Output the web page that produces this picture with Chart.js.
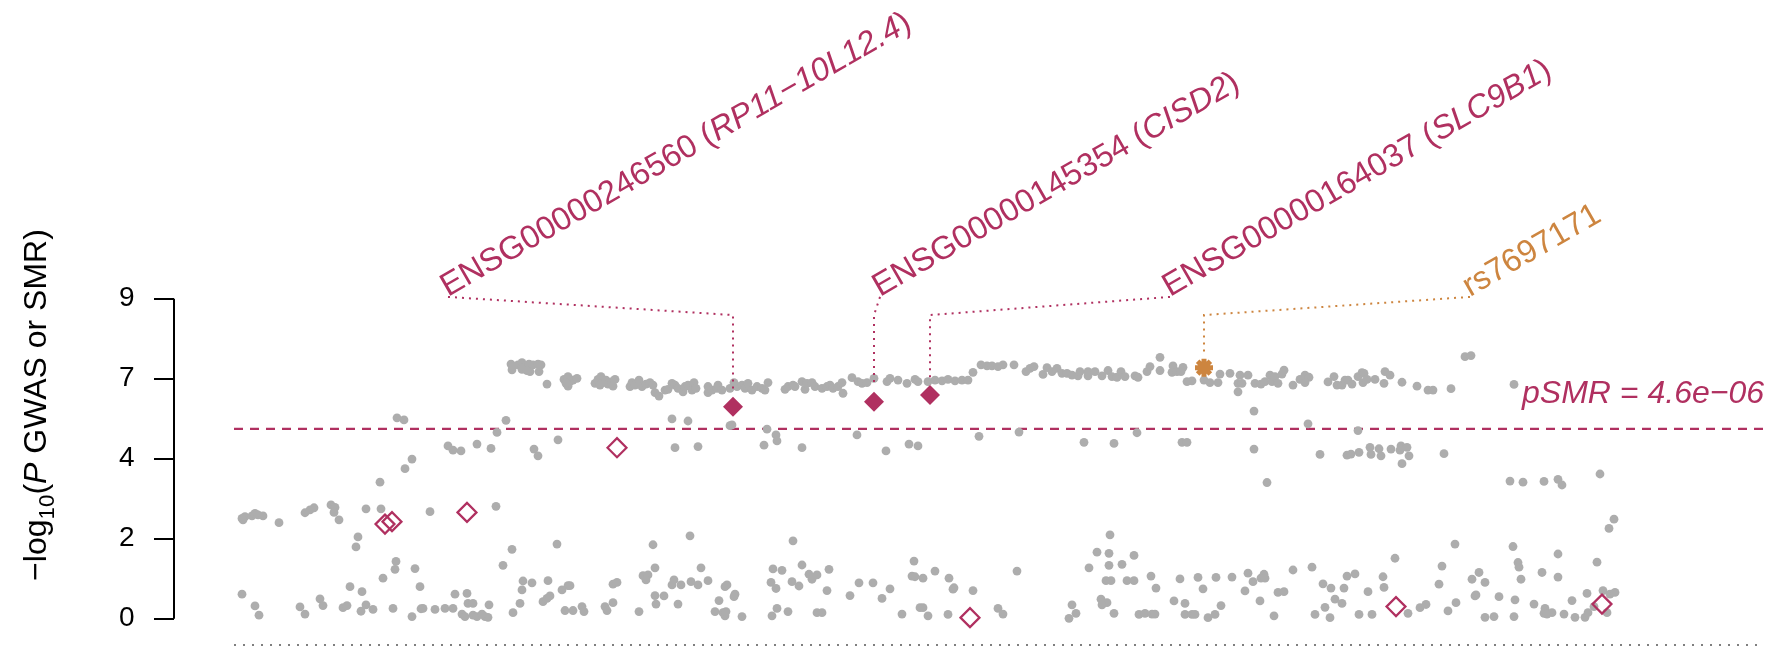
<!DOCTYPE html>
<html>
<head>
<meta charset="utf-8">
<script src="https://cdn.jsdelivr.net/npm/chart.js@4"></script>
<style>
  body { margin: 0; background: #fff; }
  canvas { display: block; }
</style>
</head>
<body>
<canvas id="smrPlot" width="1787" height="646"></canvas>
<script>
// GWAS SNPs as [position (kb in plot window), -log10(P)], split by window
const snpsLeft = [
  [242,2.82],[245,2.87],[243,2.78],[252,2.89],[255,2.96],[258,2.92],[263,2.89],[279,2.70],
  [305,2.98],[310,3.06],[314,3.12],[331,3.20],[335,3.13],[334,2.99],[339,2.78],[366,3.09],
  [381,3.09],[430,3.01],[358,2.30],[356,2.02],[396,1.61],[395,1.39],[415,1.41],[383,1.14],
  [350,0.90],[362,0.76],[420,0.90],[242,0.69],[255,0.36],[259,0.10],[300,0.33],[305,0.13],
  [320,0.56],[323,0.37],[343,0.31],[347,0.37],[361,0.21],[366,0.39],[373,0.26],[393,0.29],
  [412,0.06],[421,0.28],[423,0.29],[435,0.26],[397,5.65],[404,5.59],[412,4.49],[405,4.22],[380,3.84]
];
const snpsPeakA = [
  [511,7.16],[512,7.00],[518,7.14],[522,7.20],[525,7.09],[529,7.16],[530,6.95],[533,7.14],
  [538,7.16],[541,7.14],[539,6.95],[522,7.01],[527,6.98],[547,6.60],[564,6.73],[568,6.81],
  [570,6.67],[568,6.54],[573,6.71],[577,6.76],[566,6.62],[595,6.62],[598,6.73],[601,6.81],
  [603,6.64],[606,6.71],[608,6.60],[612,6.67],[615,6.73],[613,6.54],[600,6.57],[630,6.53],
  [632,6.64],[635,6.57],[639,6.71],[642,6.53],[646,6.60],[650,6.64],[653,6.57],[655,6.36],
  [659,6.26],[665,6.43],[668,6.45],[672,6.62],[675,6.57],
  [506,5.58],[497,5.24],[672,5.62],[448,4.86],[453,4.74],[461,4.72],[477,4.91],[491,4.79],
  [534,4.77],[538,4.58],[558,5.03],[675,4.81],[496,3.16],
  [557,2.10],[653,2.08],[512,1.95],[503,1.50],[655,1.43],[643,1.21],[648,1.23],[646,1.09],
  [672,0.95],[674,1.09],[523,1.06],[532,1.01],[548,1.07],[522,0.81],[568,0.93],[570,0.93],
  [562,0.81],[613,0.97],[617,1.02],[455,0.69],[467,0.71],[468,0.43],[473,0.43],[489,0.39],
  [520,0.43],[543,0.48],[547,0.57],[550,0.64],[445,0.29],[453,0.29],[462,0.13],[465,0.06],
  [473,0.10],[477,0.06],[485,0.06],[488,0.04],[482,0.13],[513,0.17],[565,0.23],[573,0.23],
  [582,0.34],[584,0.20],[605,0.34],[607,0.23],[613,0.45],[639,0.20],[655,0.65],[664,0.64],[656,0.41]
];
const snpsPeakB = [
  [678,6.48],[683,6.38],[685,6.53],[688,6.57],[692,6.43],[694,6.64],[696,6.48],[708,6.53],
  [708,6.36],[712,6.43],[717,6.48],[718,6.57],[722,6.43],[730,6.48],[734,6.64],[737,6.53],
  [742,6.57],[745,6.48],[748,6.62],[752,6.43],[757,6.53],[762,6.48],[765,6.43],[768,6.64],
  [785,6.45],[788,6.53],[793,6.57],[795,6.53],[802,6.67],[805,6.45],[807,6.62],[812,6.64],
  [815,6.53],[822,6.48],[827,6.53],[830,6.57],[833,6.48],[838,6.53],[842,6.64],[843,6.34],
  [852,6.78],[858,6.67],[862,6.62],[867,6.64],[874,6.76],[887,6.67],[890,6.76],[898,6.71],
  [907,6.62],[915,6.73],
  [688,5.56],[730,5.43],[732,5.45],[767,5.33],[776,5.17],[777,5.00],[764,4.88],[802,4.81],
  [857,5.17],[886,4.72],[909,4.91],[698,4.84],
  [690,2.33],[793,2.19],[914,1.62],[701,1.43],[773,1.40],[782,1.36],[802,1.51],[829,1.39],
  [912,1.20],[681,0.95],[691,1.04],[698,0.95],[708,1.07],[725,0.90],[727,0.95],[735,0.69],
  [734,0.62],[771,1.02],[776,0.85],[792,1.04],[799,0.92],[809,1.25],[817,1.23],[812,1.11],
  [827,0.79],[850,0.65],[859,1.01],[873,1.01],[882,0.57],[890,0.84],[678,0.41],[719,0.51],
  [715,0.20],[723,0.17],[725,0.08],[726,0.20],[742,0.06],[772,0.08],[777,0.29],[788,0.20],
  [817,0.17],[822,0.17],[902,0.13],[915,1.18]
];
const snpsMid = [
  [918,6.67],[928,6.67],[935,6.71],[942,6.69],[948,6.73],[955,6.69],[962,6.71],[968,6.71],
  [973,6.93],[981,7.14],[987,7.11],[992,7.11],[998,7.09],[1003,7.14],[1014,7.14],[1026,6.95],
  [1030,7.04],[1034,7.09],[1043,6.87],[1047,7.06],[1052,6.95],[1057,7.04],[1062,6.90],[1067,6.90],
  [1072,6.85],[1078,6.83],[1080,6.95],[1088,6.83],[1088,6.95],[1095,6.95],[1102,6.83],[1108,6.98],
  [1112,6.81],[1117,6.79],[1121,6.95],[1125,6.81],[1135,6.83],[1138,6.79],[1147,6.95],[1150,7.09],
  [918,4.86],[979,5.13],[1019,5.25],[1084,4.96],[1114,4.93],[1137,5.23],
  [1110,2.36],[1097,1.87],[1109,1.84],[1134,1.78],[1109,1.50],[1122,1.53],[1089,1.43],[935,1.34],
  [1017,1.34],[923,1.14],[949,1.14],[1106,1.07],[1111,1.07],[1127,1.07],[1134,1.07],[1151,1.20],
  [954,0.87],[953,0.83],[973,0.79],[1101,0.55],[1107,0.45],[1102,0.39],[1072,0.39],[920,0.31],
  [923,0.31],[998,0.29],[1003,0.13],[928,0.08],[948,0.12],[1076,0.15],[1069,0.01],[1114,0.15],
  [1139,0.12],[1145,0.15],[1152,0.13],[1156,0.86]
];
const snpsRightA = [
  [1160,7.35],[1160,6.98],[1173,7.11],[1172,6.93],[1177,6.95],[1181,6.95],[1183,7.07],[1187,6.67],
  [1192,6.69],[1204,6.71],[1210,6.64],[1218,6.64],[1220,6.88],[1230,6.90],[1238,6.62],[1240,6.85],
  [1242,6.62],[1248,6.85],[1238,6.38],[1255,6.62],[1261,6.60],[1265,6.67],[1270,6.85],[1272,6.67],
  [1275,6.81],[1278,6.62],[1282,6.88],[1284,6.99],[1293,6.57],[1300,6.73],[1305,6.85],[1309,6.79],
  [1305,6.64],[1328,6.66],[1334,6.81],[1337,6.57],[1342,6.57],[1345,6.71],[1348,6.71],[1352,6.60],
  [1358,6.81],[1362,6.92],[1364,6.90],[1363,6.64],[1367,6.73],[1375,6.73],[1385,6.95],[1384,6.62],[1390,6.85],
  [1254,5.84],[1308,5.48],[1358,5.29],[1182,4.96],[1187,4.96],[1254,4.77],[1320,4.62],[1347,4.60],
  [1351,4.63],[1359,4.68],[1370,4.82],[1371,4.62],[1379,4.78],[1381,4.58],[1391,4.77],[1267,3.83],
  [1312,1.45],[1293,1.37],[1395,1.70],[1180,1.12],[1198,1.16],[1216,1.16],[1232,1.17],[1248,1.28],
  [1253,1.04],[1261,1.14],[1264,1.25],[1265,1.14],[1347,1.20],[1355,1.26],[1383,1.18],[1384,0.88],
  [1323,0.98],[1331,0.86],[1344,0.86],[1368,0.76],[1203,0.84],[1245,0.78],[1278,0.74],[1284,0.76],
  [1174,0.50],[1185,0.43],[1221,0.37],[1260,0.50],[1335,0.55],[1342,0.43],[1325,0.32],[1155,0.13],
  [1185,0.12],[1192,0.12],[1195,0.12],[1208,0.03],[1215,0.12],[1274,0.08],[1315,0.12],[1330,0.03],
  [1359,0.12],[1372,0.12]
];
const snpsRightB = [
  [1465,7.37],[1471,7.40],[1402,6.65],[1417,6.54],[1428,6.43],[1433,6.43],[1451,6.47],[1514,6.59],
  [1401,4.86],[1407,4.82],[1400,4.74],[1409,4.58],[1402,4.36],[1444,4.64],[1510,3.87],[1523,3.84],
  [1544,3.86],[1558,3.92],[1562,3.76],[1600,4.07],[1614,2.80],[1609,2.54],
  [1455,2.10],[1513,2.03],[1558,1.82],[1597,1.59],[1442,1.48],[1518,1.58],[1519,1.45],[1479,1.30],
  [1472,1.11],[1485,1.02],[1542,1.30],[1521,1.11],[1558,1.17],[1439,0.97],[1476,0.67],[1475,0.64],
  [1499,0.62],[1587,0.71],[1603,0.79],[1610,0.69],[1615,0.74],[1515,0.53],[1534,0.41],[1572,0.51],
  [1456,0.45],[1420,0.31],[1426,0.40],[1448,0.22],[1408,0.15],[1545,0.29],[1544,0.15],[1552,0.17],
  [1547,0.13],[1564,0.13],[1485,0.04],[1494,0.06],[1514,0.06],[1575,0.04],[1585,0.04],[1588,0.17],
  [1594,0.34],[1607,0.17]
];

// SMR probes passing the threshold
const probeIds = ['ENSG00000246560', 'ENSG00000145354', 'ENSG00000164037'];
const probeGenes = ['RP11\u221210L12.4', 'CISD2', 'SLC9B1'];
const probePos = [733, 874, 930];
const probeLogP = [5.96, 6.10, 6.29];

// other probes
const otherProbePos = [385, 392, 467, 617, 970, 1396, 1602];
const otherProbeLogP = [2.66, 2.73, 2.99, 4.81, 0.03, 0.34, 0.41];

// top cis-eQTL
const topSnpId = 'rs7697171';
const topSnpPos = 1204;
const topSnpLogP = 7.06;

const pSMR = 4.6e-6;
const yTickValues = [0, 2.25, 4.5, 6.75, 9];
const yTickLabels = ['0', '2', '4', '7', '9'];

// layout bits
const plotSpan = [234, 1764];
const labelX = [448, 880, 1170, 1470];
const labelY = 9.05;
const elbowY = 8.54;
const trackTopY = -0.74;

const maroon = '#B03060';
const peru = '#CD853F';
const grey = '#ADADAD';
const FONT = '"Liberation Sans", Arial, Helvetica, sans-serif';

const thresholdLogP = -Math.log10(pSMR);
const toXY = arr => arr.map(([x, y]) => ({ x, y }));
const allSnps = [...snpsLeft, ...snpsPeakA, ...snpsPeakB, ...snpsMid, ...snpsRightA, ...snpsRightB];

function fmtP(p) {
  const [m, e] = p.toExponential(1).split('e');
  const n = Math.abs(parseInt(e, 10));
  return m + 'e' + (e[0] === '-' ? '\u2212' : '+') + String(n).padStart(2, '0');
}

function drawRich(ctx, x, y, angle, parts, size, color, align) {
  ctx.save();
  ctx.translate(x, y);
  ctx.rotate(angle);
  ctx.fillStyle = color;
  ctx.textBaseline = 'alphabetic';
  ctx.textAlign = 'left';
  const fontOf = p => (p.italic ? 'italic ' : '') + (size * (p.scale || 1)) + 'px ' + FONT;
  let total = 0;
  parts.forEach(p => { ctx.font = fontOf(p); total += ctx.measureText(p.text).width; });
  let cx = align === 'right' ? -total : align === 'center' ? -total / 2 : 0;
  parts.forEach(p => {
    ctx.font = fontOf(p);
    ctx.fillText(p.text, cx, (p.dy || 0) * size);
    cx += ctx.measureText(p.text).width;
  });
  ctx.restore();
}

const annotations = {
  id: 'annotations',
  afterDraw(chart) {
    const { ctx, chartArea, scales: { x, y } } = chart;
    // y axis line from 0 to 9
    ctx.save();
    ctx.strokeStyle = '#000';
    ctx.lineWidth = 2;
    ctx.beginPath();
    ctx.moveTo(chartArea.left, y.getPixelForValue(yTickValues[0]));
    ctx.lineTo(chartArea.left, y.getPixelForValue(yTickValues[yTickValues.length - 1]));
    ctx.stroke();
    ctx.restore();

    // axis title
    drawRich(ctx, 46, 405, -Math.PI / 2, [
      { text: '\u2212log' }, { text: '10', scale: 0.7, dy: 0.25 }, { text: '(' },
      { text: 'P', italic: true }, { text: ' GWAS or SMR)' }
    ], 32, '#000', 'center');

    // probe labels
    probeIds.forEach((id, i) => {
      drawRich(ctx, x.getPixelForValue(labelX[i]), y.getPixelForValue(labelY), -Math.PI / 6, [
        { text: id + ' (' }, { text: probeGenes[i], italic: true }, { text: ')' }
      ], 32.5, maroon, 'left');
    });
    drawRich(ctx, x.getPixelForValue(labelX[3]), y.getPixelForValue(labelY), -Math.PI / 6,
      [{ text: topSnpId }], 32.5, peru, 'left');

    // pSMR note
    drawRich(ctx, x.getPixelForValue(plotSpan[1]), y.getPixelForValue(6.06), 0,
      [{ text: 'pSMR = ' + fmtP(pSMR), italic: true }], 32, maroon, 'right');
  }
};

const connector = (fromX, toX, toY, color) => ({
  data: [{ x: fromX, y: labelY }, { x: toX, y: elbowY }, { x: toX, y: toY + 0.45 }],
  showLine: true, borderColor: color, borderWidth: 2, borderDash: [2, 5],
  pointRadius: 0, fill: false, clip: false, order: 4
});

const datasets = [
  { data: [{ x: topSnpPos, y: topSnpLogP }], pointStyle: 'star', pointRadius: 9,
    pointBorderWidth: 5, borderColor: peru, backgroundColor: peru, clip: false, order: 0 },
  { data: probePos.map((p, i) => ({ x: p, y: probeLogP[i] })), pointStyle: 'rectRot',
    pointRadius: 10, pointBorderWidth: 0, backgroundColor: maroon, clip: false, order: 1 },
  { data: otherProbePos.map((p, i) => ({ x: p, y: otherProbeLogP[i] })), pointStyle: 'rectRot',
    pointRadius: 9.5, pointBorderWidth: 2.2, borderColor: maroon, backgroundColor: 'rgba(0,0,0,0)',
    clip: false, order: 2 },
  { data: toXY(allSnps), pointRadius: 4.4, pointBorderWidth: 0, backgroundColor: grey, clip: false, order: 5 },
  ...probePos.map((p, i) => connector(labelX[i], p, probeLogP[i], maroon)),
  connector(labelX[3], topSnpPos, topSnpLogP, peru),
  { data: plotSpan.map(px => ({ x: px, y: thresholdLogP })), showLine: true, borderColor: maroon,
    borderWidth: 2.2, borderDash: [9, 7], pointRadius: 0, clip: false, order: 6 },
  { data: plotSpan.map(px => ({ x: px, y: trackTopY })), showLine: true, borderColor: '#7f7f7f',
    borderWidth: 2, borderDash: [2, 7], pointRadius: 0, clip: false, order: 7 }
];

new Chart(document.getElementById('smrPlot').getContext('2d'), {
  type: 'scatter',
  data: { datasets },
  options: {
    responsive: false,
    animation: false,
    devicePixelRatio: 1,
    layout: { autoPadding: false, padding: { top: 30, right: 17, bottom: 25, left: 119 } },
    plugins: { legend: { display: false }, tooltip: { enabled: false } },
    scales: {
      x: { type: 'linear', display: false, min: 174, max: 1770 },
      y: {
        type: 'linear',
        min: -0.0647,
        max: 16.557,
        afterBuildTicks: s => { s.ticks = yTickValues.map(v => ({ value: v })); },
        afterFit: s => { s.width = 55; },
        ticks: {
          callback: (v, i) => yTickLabels[i],
          font: { family: FONT, size: 28 },
          color: '#000',
          crossAlign: 'far',
          padding: 0
        },
        grid: { drawOnChartArea: false, drawTicks: true, tickLength: 20, color: '#000', lineWidth: 2 },
        border: { display: false }
      }
    }
  },
  plugins: [annotations]
});
</script>
</body>
</html>
